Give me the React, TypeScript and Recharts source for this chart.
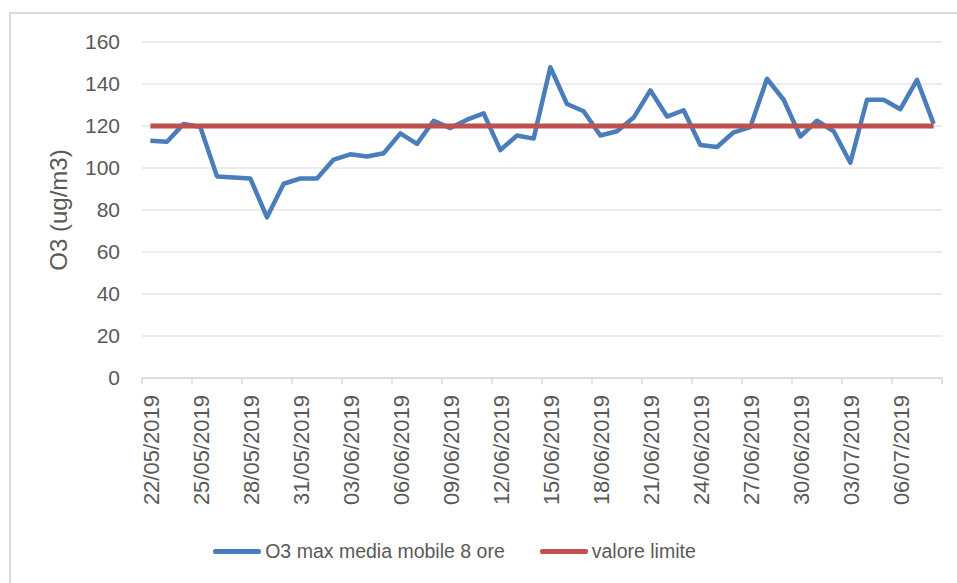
import React from 'react';
import { LineChart, Line, XAxis, YAxis, CartesianGrid, Legend } from 'recharts';

const dates = [
  '22/05/2019', '23/05/2019', '24/05/2019', '25/05/2019', '26/05/2019', '27/05/2019', '28/05/2019',
  '29/05/2019', '30/05/2019', '31/05/2019', '01/06/2019', '02/06/2019', '03/06/2019', '04/06/2019',
  '05/06/2019', '06/06/2019', '07/06/2019', '08/06/2019', '09/06/2019', '10/06/2019', '11/06/2019',
  '12/06/2019', '13/06/2019', '14/06/2019', '15/06/2019', '16/06/2019', '17/06/2019', '18/06/2019',
  '19/06/2019', '20/06/2019', '21/06/2019', '22/06/2019', '23/06/2019', '24/06/2019', '25/06/2019',
  '26/06/2019', '27/06/2019', '28/06/2019', '29/06/2019', '30/06/2019', '01/07/2019', '02/07/2019',
  '03/07/2019', '04/07/2019', '05/07/2019', '06/07/2019', '07/07/2019', '08/07/2019',
];

const o3Max = [
  113, 112.5, 121, 119.5, 96, 95.5, 95, 76.5, 92.5, 95,
  95, 104, 106.5, 105.5, 107, 116.5, 111.5, 122.5, 119, 123,
  126, 108.5, 115.5, 114, 148, 130.5, 127, 115.5, 117.5, 124,
  137, 124.5, 127.5, 111, 110, 117, 119.5, 142.5, 132.5, 115,
  122.5, 117.5, 102.5, 132.5, 132.5, 128, 142, 121,
];

const limitValues = [
  120, 120, 120, 120, 120, 120, 120, 120, 120, 120,
  120, 120, 120, 120, 120, 120, 120, 120, 120, 120,
  120, 120, 120, 120, 120, 120, 120, 120, 120, 120,
  120, 120, 120, 120, 120, 120, 120, 120, 120, 120,
  120, 120, 120, 120, 120, 120, 120, 120,
];

const yTicks = [0, 20, 40, 60, 80, 100, 120, 140, 160];

const seriesNames = ['O3 max media mobile 8 ore', 'valore limite'];
const yTitle = 'O3 (ug/m3)';

const FONT = '"Liberation Sans", Arial, sans-serif';
const TEXT = '#595959';
const GRID = '#d9d9d9';

const data = dates.map((d, i) => ({ i, date: d, o3: o3Max[i], limit: limitValues[i] }));

// tick marks sit on boundaries between every third category
const xTicks = dates
  .map((_, i) => i)
  .filter((i) => i % 3 === 0)
  .map((i) => i - 0.5)
  .concat([dates.length - 0.5]);

const XTick = (props: any) => {
  const { x, y, payload, width } = props;
  const w = typeof width === 'number' && width > 0 ? width : 800;
  const step = w / dates.length;
  const idx = Math.round(payload.value + 0.5);
  const label = dates[idx];
  const cx = x + step / 2 + 1;
  const ty = y + 17;
  return (
    <g>
      <line x1={x} y1={y} x2={x} y2={y + 6} stroke={GRID} strokeWidth={1.5} />
      {label ? (
        <text
          x={cx}
          y={ty}
          transform={`rotate(-90, ${cx}, ${ty})`}
          textAnchor="end"
          dominantBaseline="central"
          fill={TEXT}
          fontSize={22}
          fontFamily={FONT}
        >
          {label}
        </text>
      ) : null}
    </g>
  );
};

const YTitle = (props: any) => {
  const vb = props.viewBox || { x: 0, y: 28, width: 131, height: 336 };
  const cx = vb.x + 47;
  const cy = vb.y + vb.height / 2;
  return (
    <text
      x={cx}
      y={cy}
      transform={`rotate(-90, ${cx}, ${cy})`}
      textAnchor="middle"
      dominantBaseline="central"
      fill={TEXT}
      fontSize={24}
      fontFamily={FONT}
    >
      {yTitle}
    </text>
  );
};

const LegendContent = (props: any) => {
  const payload = props.payload || [];
  return (
    <div
      style={{
        height: 30,
        display: 'flex',
        justifyContent: 'center',
        alignItems: 'center',
        fontFamily: FONT,
        fontSize: 19.5,
        color: TEXT,
      }}
    >
      {payload.map((entry: any, k: number) => (
        <div key={k} style={{ display: 'flex', alignItems: 'center', marginRight: k < payload.length - 1 ? 35 : 0 }}>
          <div style={{ width: 48, height: 5, background: entry.color, borderRadius: 2 }} />
          <span style={{ marginLeft: 4, whiteSpace: 'nowrap' }}>{entry.value}</span>
        </div>
      ))}
    </div>
  );
};

export default function App() {
  return (
    <div
      style={{
        position: 'absolute',
        left: 9,
        top: 12,
        width: 948,
        height: 571,
        borderTop: `2px solid ${GRID}`,
        borderLeft: `2px solid ${GRID}`,
        boxSizing: 'border-box',
        overflow: 'hidden',
        background: '#fff',
      }}
    >
      <LineChart width={946} height={569} data={data} margin={{ top: 28, right: 15, bottom: 17, left: 0 }}>
        <CartesianGrid vertical={false} stroke={GRID} strokeWidth={1.2} />
        <XAxis
          dataKey="i"
          type="number"
          domain={[-0.5, dates.length - 0.5]}
          ticks={xTicks}
          interval={0}
          tickLine={false}
          tickSize={0}
          tickMargin={0}
          height={158}
          axisLine={{ stroke: GRID, strokeWidth: 1.5 }}
          tick={(p: any) => <XTick {...p} />}
        />
        <YAxis
          domain={[0, 160]}
          ticks={yTicks}
          interval={0}
          axisLine={false}
          tickLine={false}
          tickSize={0}
          tickMargin={22}
          width={131}
          tick={{ fill: TEXT, fontSize: 21, fontFamily: FONT }}
          label={(p: any) => <YTitle {...p} />}
        />
        <Legend verticalAlign="bottom" content={(p: any) => <LegendContent {...p} />} wrapperStyle={{ left: 0, width: 887 }} />
        <Line
          type="linear"
          dataKey="o3"
          name={seriesNames[0]}
          stroke="#4A7EBB"
          strokeWidth={4.5}
          strokeLinejoin="round"
          dot={false}
          activeDot={false}
          isAnimationActive={false}
        />
        <Line
          type="linear"
          dataKey="limit"
          name={seriesNames[1]}
          stroke="#C0504D"
          strokeWidth={5}
          dot={false}
          activeDot={false}
          isAnimationActive={false}
        />
      </LineChart>
    </div>
  );
}
